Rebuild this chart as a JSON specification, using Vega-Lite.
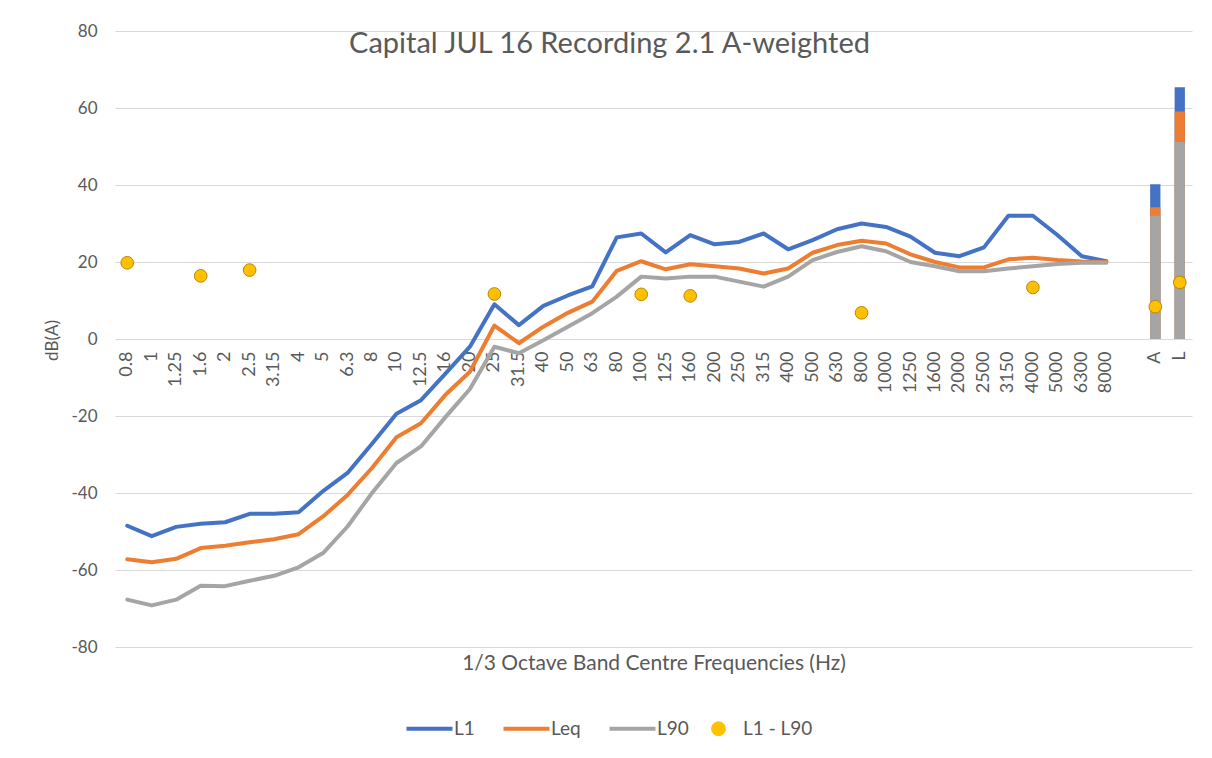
{
  "$schema": "https://vega.github.io/schema/vega-lite/v6.json",
  "width": 1077,
  "height": 616,
  "autosize": {"type": "none"},
  "padding": {"left": 115, "top": 31, "right": 20, "bottom": 111},
  "background": "white",
  "config": {"view": {"stroke": null}, "font": "Lato"},
  "title": {
    "text": "Capital JUL 16 Recording 2.1 A-weighted",
    "fontSize": 29,
    "fontWeight": "normal",
    "color": "#595959",
    "anchor": "middle",
    "frame": "group",
    "dx": -44,
    "offset": -60,
    "baseline": "alphabetic"
  },
  "datasets": {
    "bands": [
      {"f": "0.8", "L1": -48.5, "Leq": -57.2, "L90": -67.7},
      {"f": "1", "L1": -51.2, "Leq": -58.0, "L90": -69.2},
      {"f": "1.25", "L1": -48.8, "Leq": -57.1, "L90": -67.7},
      {"f": "1.6", "L1": -48.0, "Leq": -54.3, "L90": -64.1},
      {"f": "2", "L1": -47.6, "Leq": -53.7, "L90": -64.2},
      {"f": "2.5", "L1": -45.4, "Leq": -52.8, "L90": -62.8},
      {"f": "3.15", "L1": -45.4, "Leq": -52.0, "L90": -61.5},
      {"f": "4", "L1": -45.0, "Leq": -50.7, "L90": -59.3},
      {"f": "5", "L1": -39.5, "Leq": -46.1, "L90": -55.6},
      {"f": "6.3", "L1": -34.8, "Leq": -40.5, "L90": -48.7},
      {"f": "8", "L1": -27.2, "Leq": -33.5, "L90": -40.0},
      {"f": "10", "L1": -19.4, "Leq": -25.5, "L90": -32.2},
      {"f": "12.5", "L1": -15.9, "Leq": -21.9, "L90": -27.9},
      {"f": "16", "L1": -9.0, "Leq": -14.5, "L90": -20.3},
      {"f": "20", "L1": -2.0, "Leq": -8.5, "L90": -13.0},
      {"f": "25", "L1": 9.0, "Leq": 3.5, "L90": -2.0},
      {"f": "31.5", "L1": 3.6, "Leq": -1.1, "L90": -3.7},
      {"f": "40", "L1": 8.6, "Leq": 3.2, "L90": -0.3},
      {"f": "50", "L1": 11.3, "Leq": 6.8, "L90": 3.2},
      {"f": "63", "L1": 13.7, "Leq": 9.7, "L90": 6.7},
      {"f": "80", "L1": 26.4, "Leq": 17.7, "L90": 11.0},
      {"f": "100", "L1": 27.4, "Leq": 20.2, "L90": 16.2},
      {"f": "125", "L1": 22.5, "Leq": 18.1, "L90": 15.7},
      {"f": "160", "L1": 27.0, "Leq": 19.4, "L90": 16.2},
      {"f": "200", "L1": 24.6, "Leq": 18.9, "L90": 16.2},
      {"f": "250", "L1": 25.2, "Leq": 18.3, "L90": 14.9},
      {"f": "315", "L1": 27.4, "Leq": 17.0, "L90": 13.6},
      {"f": "400", "L1": 23.3, "Leq": 18.3, "L90": 16.2},
      {"f": "500", "L1": 25.7, "Leq": 22.4, "L90": 20.5},
      {"f": "630", "L1": 28.5, "Leq": 24.4, "L90": 22.6},
      {"f": "800", "L1": 30.0, "Leq": 25.5, "L90": 24.1},
      {"f": "1000", "L1": 29.1, "Leq": 24.8, "L90": 22.8},
      {"f": "1250", "L1": 26.6, "Leq": 22.0, "L90": 20.0},
      {"f": "1600", "L1": 22.4, "Leq": 20.0, "L90": 18.9},
      {"f": "2000", "L1": 21.5, "Leq": 18.6, "L90": 17.6},
      {"f": "2500", "L1": 23.8, "Leq": 18.6, "L90": 17.6},
      {"f": "3150", "L1": 32.0, "Leq": 20.7, "L90": 18.3},
      {"f": "4000", "L1": 32.0, "Leq": 21.1, "L90": 18.9},
      {"f": "5000", "L1": 27.0, "Leq": 20.5, "L90": 19.5},
      {"f": "6300", "L1": 21.5, "Leq": 20.1, "L90": 19.8},
      {"f": "8000", "L1": 20.2, "Leq": 20.0, "L90": 19.8}
    ],
    "totals": [
      {"f": "A", "L1": 40.2, "Leq": 34.2, "L90": 32.0},
      {"f": "L", "L1": 65.4, "Leq": 59.1, "L90": 51.2}
    ],
    "diff": [
      {"f": "0.8", "value": 19.8},
      {"f": "1.6", "value": 16.4},
      {"f": "2.5", "value": 17.9},
      {"f": "25", "value": 11.7},
      {"f": "100", "value": 11.6},
      {"f": "160", "value": 11.2},
      {"f": "800", "value": 6.8},
      {"f": "4000", "value": 13.4},
      {"f": "A", "value": 8.4},
      {"f": "L", "value": 14.7}
    ]
  },
  "encoding": {
    "x": {
      "field": "f",
      "type": "nominal",
      "scale": {
        "domain": ["0.8","1","1.25","1.6","2","2.5","3.15","4","5","6.3","8","10","12.5","16","20","25","31.5","40","50","63","80","100","125","160","200","250","315","400","500","630","800","1000","1250","1600","2000","2500","3150","4000","5000","6300","8000"," ","A","L"],
        "paddingInner": 0.58,
        "paddingOuter": 0.29
      },
      "axis": {
        "title": "1/3 Octave Band Centre Frequencies (Hz)",
        "orient": "bottom",
        "offset": -308,
        "labelAngle": 270,
        "domain": false,
        "ticks": false,
        "grid": false,
        "labelPadding": 12,
        "labelColor": "#595959",
        "labelFontSize": 18,
        "labelOverlap": false,
        "labelBound": false,
        "titleColor": "#595959",
        "titleFontSize": 21,
        "titleFontWeight": "normal",
        "titleY": 324,
        "titleBaseline": "middle"
      }
    },
    "y": {
      "field": "value",
      "type": "quantitative",
      "stack": null,
      "scale": {"domain": [-80, 80], "nice": false},
      "axis": {
        "values": [-80, -60, -40, -20, 0, 20, 40, 60, 80],
        "labelExpr": "'' + datum.value",
        "title": "dB(A)",
        "grid": true,
        "gridColor": "#d9d9d9",
        "gridWidth": 1,
        "domain": false,
        "ticks": false,
        "labelColor": "#595959",
        "labelFontSize": 17,
        "labelPadding": 18,
        "titleColor": "#595959",
        "titleFontSize": 17,
        "titleFontWeight": "normal",
        "titleX": -63,
        "titleY": 309,
        "titleAlign": "center",
        "titleBaseline": "middle"
      }
    }
  },
  "layer": [
    {
      "data": {"name": "bands"},
      "transform": [{"fold": ["L1", "Leq", "L90"], "as": ["series", "value"]}],
      "mark": {"type": "line", "strokeWidth": 4, "strokeJoin": "round", "strokeCap": "round"},
      "encoding": {
        "color": {
          "field": "series",
          "type": "nominal",
          "scale": {
            "domain": ["L1", "Leq", "L90", "L1 - L90"],
            "range": ["#4472C4", "#ED7D31", "#A5A5A5", "#FFC000"]
          },
          "legend": {
            "orient": "none",
            "legendX": 305,
            "legendY": 688,
            "direction": "horizontal",
            "title": null,
            "labelFontSize": 19,
            "labelColor": "#595959",
            "symbolType": "stroke",
            "symbolSize": 2116,
            "symbolStrokeWidth": 4,
            "labelOffset": 15,
            "columnPadding": 20,
            "encode": {
              "symbols": {
                "update": {
                  "shape": {"signal": "datum.value === 'L1 - L90' ? 'M0.3,0A0.3,0.3,0,1,1,-0.3,0A0.3,0.3,0,1,1,0.3,0Z' : 'stroke'"},
                  "fill": {"signal": "datum.value === 'L1 - L90' ? '#FFC000' : 'transparent'"},
                  "stroke": {"signal": "datum.value === 'L1 - L90' ? '#B8860B' : scale('color', datum.value)"},
                  "strokeWidth": {"signal": "datum.value === 'L1 - L90' ? 1 : 4"}
                }
              }
            }
          }
        }
      }
    },
    {
      "data": {"name": "totals"},
      "transform": [{"fold": ["L1", "Leq", "L90"], "as": ["series", "value"]}],
      "mark": {"type": "bar"},
      "encoding": {
        "color": {"field": "series", "type": "nominal"}
      }
    },
    {
      "data": {"name": "diff"},
      "mark": {"type": "point", "filled": true, "size": 160, "stroke": "#B8860B", "strokeWidth": 1, "opacity": 1},
      "encoding": {
        "color": {"datum": "L1 - L90"}
      }
    }
  ]
}
